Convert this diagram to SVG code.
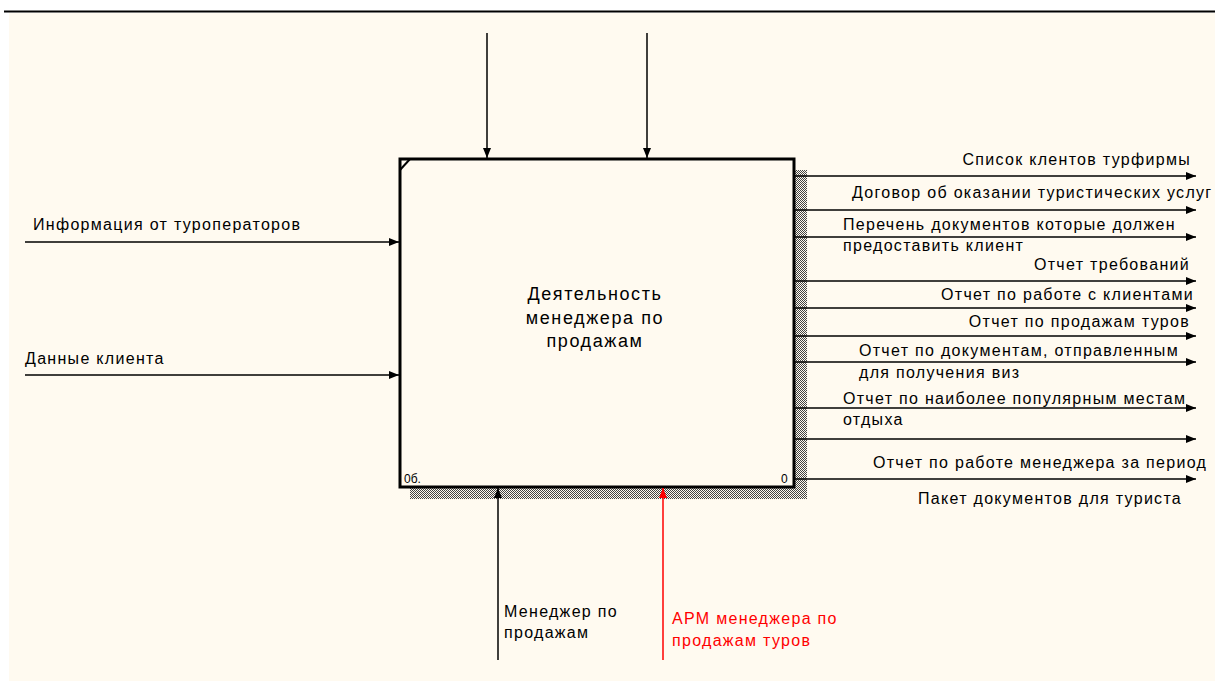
<svg xmlns="http://www.w3.org/2000/svg" width="1215" height="682" viewBox="0 0 1215 682">
<defs>
<pattern id="hatch" width="2" height="2" patternUnits="userSpaceOnUse">
<rect width="2" height="2" fill="#fffaf0"/>
<rect x="0" y="0" width="1" height="1" fill="#444"/>
<rect x="1" y="1" width="1" height="1" fill="#444"/>
</pattern>
<marker id="ah" markerWidth="10" markerHeight="8" refX="10" refY="4" orient="auto" markerUnits="userSpaceOnUse">
<path d="M0,0 L10,4 L0,8 Z" fill="#000"/>
</marker>
<marker id="ahr" markerWidth="10" markerHeight="8" refX="10" refY="4" orient="auto" markerUnits="userSpaceOnUse">
<path d="M0,0 L10,4 L0,8 Z" fill="#ff0000"/>
</marker>
</defs>
<style>
.t{font-family:"Liberation Sans",Arial,sans-serif;font-size:16px;letter-spacing:1.3px;fill:#000}
.b{font-family:"Liberation Sans",Arial,sans-serif;font-size:18px;letter-spacing:1.6px;fill:#000;text-anchor:middle}
.r{text-anchor:end}
.red{fill:#ff0000}
.c{stroke:#000;stroke-width:1.5;fill:none}
.cr{stroke:#ff0000;stroke-width:1.5;fill:none}
.small{font-family:"Liberation Sans",Arial,sans-serif;font-size:12px;fill:#000}
</style>
<rect x="0" y="0" width="1215" height="682" fill="#ffffff"/>
<rect x="9" y="13" width="1206" height="668" fill="#fffaf0"/>
<line x1="4" y1="11.5" x2="1215" y2="11.5" stroke="#000" stroke-width="2"/>

<g id="node-main">
<rect x="795" y="170" width="12" height="329" fill="url(#hatch)"/>
<rect x="410" y="488" width="397" height="11" fill="url(#hatch)"/>
<rect x="400" y="159" width="394" height="328" fill="#fffaf0" stroke="#000" stroke-width="3"/>
<line x1="400" y1="170" x2="410" y2="159" stroke="#000" stroke-width="2"/>
<text class="b" x="595" y="300">Деятельность</text>
<text class="b" x="595" y="324">менеджера по</text>
<text class="b" x="595" y="347">продажам</text>
<text class="small" x="404" y="483">0б.</text>
<text class="small" x="781" y="483">0</text>
</g>

<g id="connectors">
<line class="c" x1="487" y1="33" x2="487" y2="158" marker-end="url(#ah)"/>
<line class="c" x1="647" y1="33" x2="647" y2="158" marker-end="url(#ah)"/>
<line class="c" x1="25" y1="242" x2="399" y2="242" marker-end="url(#ah)"/>
<line class="c" x1="25" y1="375" x2="399" y2="375" marker-end="url(#ah)"/>
<line class="c" x1="498" y1="660" x2="498" y2="488" marker-end="url(#ah)"/>
<line class="cr" x1="663" y1="660" x2="663" y2="488" marker-end="url(#ahr)"/>
<line class="c" x1="795" y1="176" x2="1196" y2="176" marker-end="url(#ah)"/>
<line class="c" x1="795" y1="210" x2="1196" y2="210" marker-end="url(#ah)"/>
<line class="c" x1="795" y1="237" x2="1196" y2="237" marker-end="url(#ah)"/>
<line class="c" x1="795" y1="281" x2="1196" y2="281" marker-end="url(#ah)"/>
<line class="c" x1="795" y1="308" x2="1196" y2="308" marker-end="url(#ah)"/>
<line class="c" x1="795" y1="336" x2="1196" y2="336" marker-end="url(#ah)"/>
<line class="c" x1="795" y1="362" x2="1196" y2="362" marker-end="url(#ah)"/>
<line class="c" x1="795" y1="408" x2="1196" y2="408" marker-end="url(#ah)"/>
<line class="c" x1="795" y1="439" x2="1196" y2="439" marker-end="url(#ah)"/>
<line class="c" x1="795" y1="479" x2="1196" y2="479" marker-end="url(#ah)"/>
</g>

<g id="labels">
<text class="t" x="33" y="230">Информация от туроператоров</text>
<text class="t" x="25" y="364">Данные клиента</text>
<text class="t" x="504" y="617">Менеджер по</text>
<text class="t" x="504" y="638">продажам</text>
<text class="t red" x="672" y="624">АРМ менеджера по</text>
<text class="t red" x="672" y="646">продажам туров</text>
<text class="t r" x="1191" y="165">Список клентов турфирмы</text>
<text class="t" x="852" y="198">Договор об оказании туристических услуг</text>
<text class="t" x="843" y="230">Перечень документов которые должен</text>
<text class="t" x="843" y="251">предоставить клиент</text>
<text class="t r" x="1190" y="270">Отчет требований</text>
<text class="t r" x="1194" y="300">Отчет по работе с клиентами</text>
<text class="t r" x="1190" y="327">Отчет по продажам туров</text>
<text class="t" x="859" y="356">Отчет по документам, отправленным</text>
<text class="t" x="859" y="378">для получения виз</text>
<text class="t" x="843" y="404">Отчет по наиболее популярным местам</text>
<text class="t" x="843" y="425">отдыха</text>
<text class="t" x="873" y="468">Отчет по работе менеджера за период</text>
<text class="t" x="918" y="504">Пакет документов для туриста</text>
</g>
</svg>
